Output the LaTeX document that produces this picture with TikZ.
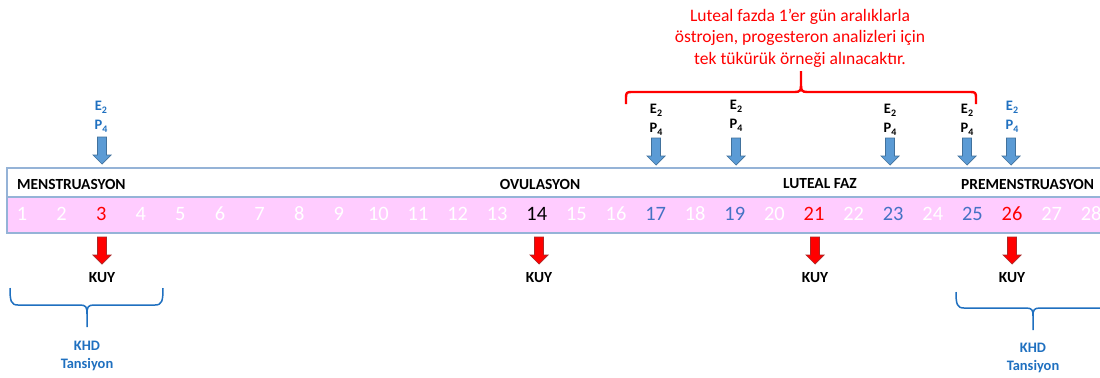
\documentclass[tikz,border=0pt]{standalone}
\usepackage{fontspec}
\setmainfont{Carlito}
\definecolor{pinkband}{RGB}{255,204,255}
\definecolor{stripline}{RGB}{149,179,215}
\definecolor{arrblue}{RGB}{91,155,213}
\definecolor{arrblueD}{RGB}{65,113,156}
\definecolor{txtblue}{RGB}{31,112,192}
\definecolor{numblue}{RGB}{68,114,196}
\definecolor{arrred}{RGB}{255,0,0}
\definecolor{arrredD}{RGB}{170,40,40}
\newcommand\sbs[1]{\raisebox{-2.5bp}{\fontsize{10}{10}\selectfont #1}}
\begin{document}
\begin{tikzpicture}[x=1bp,y=-1bp,
  daynum/.style={font=\fontsize{20.5}{24}\selectfont, inner sep=0},
  phase/.style={font=\bfseries\fontsize{15.5}{18}\selectfont, inner sep=0},
  hormone/.style={font=\bfseries\fontsize{14.5}{19}\selectfont, align=center, inner sep=0},
  kuy/.style={font=\bfseries\fontsize{15.5}{18}\selectfont, inner sep=0},
  khd/.style={font=\bfseries\fontsize{14.5}{17.5}\selectfont, align=center, inner sep=0, text=txtblue},
  note/.style={font=\fontsize{17.6}{21.5}\selectfont, align=center, inner sep=0, text=red},
  bluearr/.style={fill=arrblue, draw=arrblueD, line width=0.7bp},
  redarr/.style={fill=arrred, draw=arrredD, line width=0.7bp},
  rbrace/.style={draw=red, line width=2.4bp},
  bbrace/.style={draw=txtblue, line width=1.5bp},
  downarr/.pic={\path[pic actions] (-4.5,0) -- (4.5,0) -- (4.5,18) -- (9,18) -- (0,27) -- (-9,18) -- (-4.5,18) -- cycle;}
]
\clip (0,0) rectangle (1100,377);
\fill[white] (0,0) rectangle (1100,377);

% strip
\draw[stripline, line width=1.2bp, fill=white] (7,168) rectangle (1120,197);
\draw[stripline, line width=1.2bp, fill=pinkband] (7,197) rectangle (1120,233);

% day numbers
\foreach \n/\c in {1/white,2/white,3/red,4/white,5/white,6/white,7/white,8/white,9/white,10/white,
  11/white,12/white,13/white,14/black,15/white,16/white,17/numblue,18/white,19/numblue,20/white,
  21/red,22/white,23/numblue,24/white,25/numblue,26/red,27/white,28/white}
  \node[daynum, text=\c] (d\n) at ({22+(\n-1)*39.6},214) {\n};

% phase labels
\node[phase, anchor=west] (men) at (17,184) {MENSTRUASYON};
\node[phase] (ovu) at (540,184) {OVULASYON};
\node[phase] (lut) at (820,184) {LUTEAL FAZ};
\node[phase, anchor=west] (pre) at (961,184) {PREMENSTRUASYON};

% hormone labels and blue arrows
\node[hormone, text=txtblue] (h3) at (101,117) {E\sbs{2}\\P\sbs{4}};
\node[hormone, text=txtblue] (h26) at (1012,117) {E\sbs{2}\\P\sbs{4}};
\node[hormone] (h17) at (656,120) {E\sbs{2}\\P\sbs{4}};
\node[hormone] (h19) at (736,116) {E\sbs{2}\\P\sbs{4}};
\node[hormone] (h23) at (890,120) {E\sbs{2}\\P\sbs{4}};
\node[hormone] (h25) at (967,120) {E\sbs{2}\\P\sbs{4}};
\pic[bluearr] at (102,137) {downarr};
\pic[bluearr] at (656,138) {downarr};
\pic[bluearr] at (736,138) {downarr};
\pic[bluearr] at (890,138) {downarr};
\pic[bluearr] at (967,138) {downarr};
\pic[bluearr] at (1011,138) {downarr};

% red arrows and KUY
\foreach \x/\k in {102/a,539/b,815/c,1012/d} {
  \pic[redarr] at (\x,237) {downarr};
  \node[kuy] (kuy\k) at (\x,278) {KUY};
}

% red note with brace
\node[note] (note) at (800,38) {Luteal fazda 1’er gün aralıklarla\\östrojen, progesteron analizleri için\\tek tükürük örneği alınacaktır.};
\draw[rbrace] (626,104) -- (626,97) .. controls (626,93) and (627,92) .. (631,92) -- (795,92)
  .. controls (800,92) and (801,90) .. (801,86) -- (801,71);
\draw[rbrace] (976,104) -- (976,97) .. controls (976,93) and (975,92) .. (971,92) -- (807,92)
  .. controls (802,92) and (801,90) .. (801,86);

% blue braces
\draw[bbrace] (10,288) .. controls (10,301) and (11,305) .. (18,305) -- (80,305)
  .. controls (86,305) and (87,307) .. (87,314) -- (87,327);
\draw[bbrace] (163,288) .. controls (163,301) and (162,305) .. (155,305) -- (94,305)
  .. controls (88,305) and (87,307) .. (87,314);
\node[khd] (khdL) at (87,356) {KHD\\Tansiyon};

\draw[bbrace] (956,292) .. controls (956,304) and (957,308) .. (964,308) -- (1026,308)
  .. controls (1032,308) and (1033,310) .. (1033,316) -- (1033,330);
\draw[bbrace] (1033,316) .. controls (1033,310) and (1034,308) .. (1040,308) -- (1110,308);
\node[khd] (khdR) at (1033,358) {KHD\\Tansiyon};
\end{tikzpicture}
\end{document}
